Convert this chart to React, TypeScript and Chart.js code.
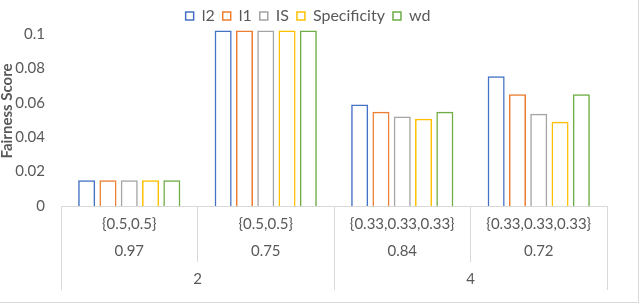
import React, { useEffect, useRef } from 'react';
import { Chart, registerables } from 'chart.js';

Chart.register(...registerables);

// ---- data ----
const configs = ['{0.5,0.5}', '{0.5,0.5}', '{0.33,0.33,0.33}', '{0.33,0.33,0.33}'];
const ratios = ['0.97', '0.75', '0.84', '0.72'];
const groups = ['2', '4'];
const seriesNames = ['l2', 'l1', 'IS', 'Specificity', 'wd'];
const l2Values = [0.015, 0.102, 0.059, 0.0755];
const l1Values = [0.015, 0.102, 0.0548, 0.065];
const isValues = [0.015, 0.102, 0.052, 0.0536];
const specificityValues = [0.015, 0.102, 0.0507, 0.049];
const wdValues = [0.015, 0.102, 0.0548, 0.065];
const yMin = 0;
const yMax = 0.1;
const yStep = 0.02;

// ---- styles ----
const seriesColors = ['#4472C4', '#ED7D31', '#A5A5A5', '#FFC000', '#70AD47'];
const textColor = '#595959';
const lineColor = '#D9D9D9';
const FONT = 'Lato, "Open Sans", sans-serif';
const LEGEND_CENTER = 308;

const excelAxisPlugin = {
  id: 'excelAxis',
  afterLayout(chart: any) {
    const lg = chart.legend;
    if (lg) {
      const dx = LEGEND_CENTER - (lg.left + lg.right) / 2;
      lg.left += dx;
      lg.right += dx;
    }
    const y = chart.scales.y;
    if (y && !y._titlePatched) {
      const orig = y.drawTitle.bind(y);
      y.drawTitle = (...args: any[]) => {
        const ctx = chart.ctx;
        ctx.save();
        ctx.translate(-1.5, -9);
        orig(...args);
        ctx.restore();
      };
      y._titlePatched = true;
    }
  },
  afterDraw(chart: any) {
    const { ctx } = chart;
    const x = chart.scales.x;
    const x2 = chart.scales.x2;
    if (!x || !x2) return;
    const groupEdges: number[] = [];
    for (let j = 0; j <= groups.length; j++) groupEdges.push(x2.getPixelForValue(j - 0.5));
    ctx.save();
    ctx.strokeStyle = lineColor;
    ctx.lineWidth = 1;
    const n = configs.length;
    for (let i = 0; i <= n; i++) {
      const px = x.getPixelForValue(i - 0.5);
      const isLong = groupEdges.some((g) => Math.abs(g - px) < 1);
      const xx = Math.floor(px) + 0.5;
      ctx.beginPath();
      ctx.moveTo(xx, x.top);
      ctx.lineTo(xx, isLong ? x2.bottom : x.bottom);
      ctx.stroke();
    }
    ctx.restore();
  },
};

export default function App() {
  const canvasRef = useRef<HTMLCanvasElement | null>(null);

  useEffect(() => {
    if (!canvasRef.current) return;
    Chart.defaults.font.family = FONT;
    Chart.defaults.color = textColor;
    const seriesValues = [l2Values, l1Values, isValues, specificityValues, wdValues];
    const chart = new Chart(canvasRef.current, {
      type: 'bar',
      data: {
        labels: configs.map((c, i) => [c, ratios[i]]),
        datasets: seriesNames.map((name, i) => ({
          label: name,
          data: seriesValues[i],
          backgroundColor: 'rgba(255,255,255,0)',
          borderColor: seriesColors[i],
          borderWidth: 1.5,
          categoryPercentage: 0.78,
          barPercentage: 0.8,
          clip: false as any,
        })),
      },
      options: {
        animation: false,
        responsive: false,
        devicePixelRatio: 1,
        layout: { padding: { left: 0, right: 31, top: 0, bottom: 12 } },
        plugins: {
          legend: {
            position: 'top',
            labels: {
              font: { family: FONT, size: 16 },
              color: textColor,
              boxWidth: 8,
              boxHeight: 8,
              padding: 8,
            },
          },
          tooltip: { enabled: false },
        },
        scales: {
          x: {
            type: 'category',
            position: 'bottom',
            weight: 0,
            offset: true,
            grid: { display: false, drawTicks: false },
            border: { display: true, color: lineColor, width: 1 },
            ticks: {
              font: { family: FONT, size: 15, lineHeight: 1.78 },
              color: textColor,
              padding: 5,
              maxRotation: 0,
              autoSkip: false,
            },
            afterFit: (s: any) => { s.height = 56; },
          },
          x2: {
            type: 'category',
            position: 'bottom',
            weight: 1,
            labels: groups,
            offset: true,
            grid: { display: false, drawTicks: false },
            border: { display: false },
            ticks: {
              font: { family: FONT, size: 15, lineHeight: 1.2 },
              color: textColor,
              padding: 8,
              maxRotation: 0,
              autoSkip: false,
            },
            afterFit: (s: any) => { s.height = 28; },
          },
          y: {
            min: yMin,
            max: yMax,
            grid: { display: false, drawTicks: false },
            border: { display: false },
            ticks: {
              stepSize: yStep,
              font: { family: FONT, size: 15 },
              color: textColor,
              padding: 16,
              callback: (v: any) => String(+Number(v).toFixed(2)),
            },
            title: {
              display: true,
              text: 'Fairness Score',
              font: { family: FONT, size: 15, weight: 'bold' },
              color: textColor,
              padding: { top: 0, bottom: 0 },
            },
            afterFit: (s: any) => { s.width = 61; },
          },
        },
      } as any,
      plugins: [excelAxisPlugin],
    });
    return () => chart.destroy();
  }, []);

  return (
    <div
      style={{
        position: 'absolute',
        left: 0,
        top: 0,
        width: 638,
        height: 302,
        borderRight: `1px solid ${lineColor}`,
        borderBottom: `1px solid ${lineColor}`,
        background: '#fff',
      }}
    >
      <canvas ref={canvasRef} width={638} height={302} style={{ display: 'block' }} />
    </div>
  );
}
